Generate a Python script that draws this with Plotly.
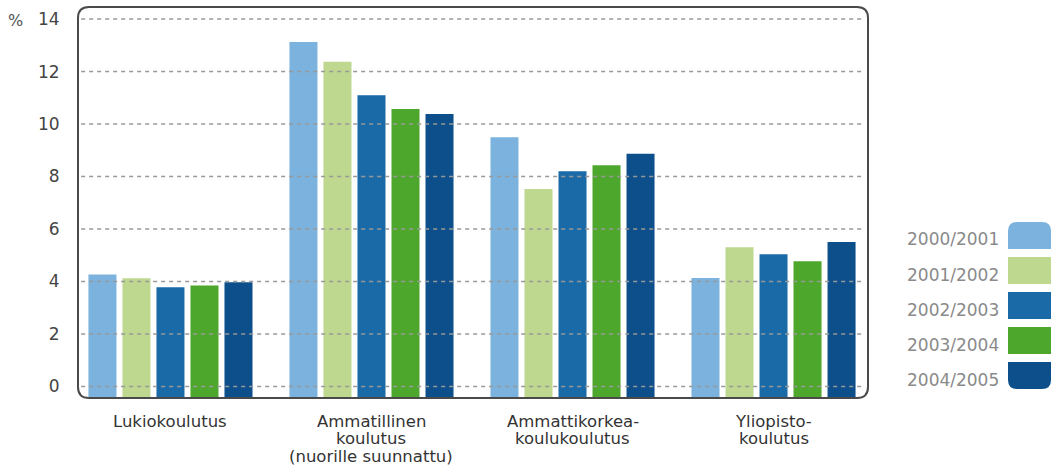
import plotly.graph_objects as go

# ---- data ----
categories = [
    "Lukiokoulutus",
    "Ammatillinen<br>koulutus<br>(nuorille suunnattu)",
    "Ammattikorkea-<br>koulukoulutus",
    "Yliopisto-<br>koulutus",
]
series_names = ["2000/2001", "2001/2002", "2002/2003", "2003/2004", "2004/2005"]
values_2000_2001 = [4.27, 13.13, 9.50, 4.13]
values_2001_2002 = [4.12, 12.37, 7.52, 5.30]
values_2002_2003 = [3.78, 11.10, 8.20, 5.04]
values_2003_2004 = [3.85, 10.57, 8.43, 4.77]
values_2004_2005 = [3.97, 10.38, 8.87, 5.50]
series_values = [values_2000_2001, values_2001_2002, values_2002_2003,
                 values_2003_2004, values_2004_2005]
y_ticks = [0, 2, 4, 6, 8, 10, 12, 14]
y_unit_label = "%"

# ---- style ----
colors = ["#7bb3de", "#bed88f", "#1a6aa8", "#4ea72d", "#0d4f8b"]
W, H = 1052, 468
ML, MR, MT, MB = 78, 184, 7, 70
PW, PH = W - ML - MR, H - MT - MB
Y_MIN, Y_MAX = -0.44, 14.46
FONT = "DejaVu Sans"


def px_x(px):
    return (px - ML) / PW


def px_y(py):
    return (H - MB - py) / PH


def rounded_path(x0, y0, x1, y1, r, tl=True, tr=True, br=True, bl=True):
    """pixel rect (y down) -> paper path with optional rounded corners"""
    rx, ry = r / PW, r / PH
    X0, X1 = px_x(x0), px_x(x1)
    Yt, Yb = px_y(y0), px_y(y1)
    p = []
    p.append(f"M {X0 + (rx if tl else 0)},{Yt}")
    if tr:
        p.append(f"L {X1 - rx},{Yt} Q {X1},{Yt} {X1},{Yt - ry}")
    else:
        p.append(f"L {X1},{Yt}")
    if br:
        p.append(f"L {X1},{Yb + ry} Q {X1},{Yb} {X1 - rx},{Yb}")
    else:
        p.append(f"L {X1},{Yb}")
    if bl:
        p.append(f"L {X0 + rx},{Yb} Q {X0},{Yb} {X0},{Yb + ry}")
    else:
        p.append(f"L {X0},{Yb}")
    if tl:
        p.append(f"L {X0},{Yt - ry} Q {X0},{Yt} {X0 + rx},{Yt}")
    else:
        p.append(f"L {X0},{Yt}")
    p.append("Z")
    return " ".join(p)


fig = go.Figure()
for name, vals, col in zip(series_names, series_values, colors):
    fig.add_trace(go.Bar(
        name=name,
        x=categories,
        y=[v - Y_MIN for v in vals],
        base=Y_MIN,
        marker=dict(color=col, line=dict(width=0)),
        customdata=vals,
        hovertemplate="%{customdata}<extra>" + name + "</extra>",
    ))

shapes = []
# dashed gridlines above bars
for t in y_ticks:
    shapes.append(dict(type="line", xref="paper", yref="y", x0=0.004, x1=0.996,
                       y0=t, y1=t, layer="above",
                       line=dict(color="#999999", width=1.5, dash="4px,4px")))
# rounded frame
shapes.append(dict(type="path", xref="paper", yref="paper",
                   path=rounded_path(ML, MT, ML + PW, MT + PH, 11),
                   line=dict(color="#4a4a4a", width=2), layer="above"))

annotations = [dict(text=y_unit_label, xref="paper", yref="paper",
                    x=px_x(15), y=px_y(20), showarrow=False,
                    xanchor="center", yanchor="middle",
                    font=dict(family=FONT, size=16, color="#555555"))]

# category labels (one text per line, tight line spacing)
label_top, label_pitch = 421, 17.5
for cat in categories:
    for j, line in enumerate(cat.split("<br>")):
        annotations.append(dict(text=line, xref="x", yref="paper", x=cat,
                                y=px_y(label_top + j * label_pitch),
                                xanchor="center", yanchor="middle",
                                showarrow=False,
                                font=dict(family=FONT, size=16.5,
                                          color="#333333")))

# custom legend
sw_top, sw_h, sw_pitch = 222, 27, 35
sw_x0, sw_x1 = 1008, 1051
n = len(series_names)
for i, (name, col) in enumerate(zip(series_names, colors)):
    y0 = sw_top + i * sw_pitch
    y1 = y0 + sw_h
    shapes.append(dict(type="path", xref="paper", yref="paper",
                       path=rounded_path(sw_x0, y0, sw_x1, y1, 9,
                                         tl=(i == 0), tr=(i == 0),
                                         bl=(i == n - 1), br=(i == n - 1)),
                       fillcolor=col, line=dict(width=0), layer="above"))
    annotations.append(dict(text=name, xref="paper", yref="paper",
                            x=px_x(1001), y=px_y((y0 + y1) / 2 + 4),
                            xanchor="right", yanchor="middle", showarrow=False,
                            font=dict(family=FONT, size=17, color="#8a8a8a")))

fig.update_layout(
    width=W, height=H,
    margin=dict(l=ML, r=MR, t=MT, b=MB, pad=0, autoexpand=False),
    paper_bgcolor="white", plot_bgcolor="white",
    barmode="group", bargap=0.154, bargroupgap=0.176,
    showlegend=False,
    shapes=shapes, annotations=annotations,
    font=dict(family=FONT, size=15, color="#333333"),
    xaxis=dict(type="category", range=[-0.46, 3.47], showgrid=False,
               zeroline=False, showline=False, showticklabels=False,
               ticks="", automargin=False),
    yaxis=dict(range=[Y_MIN, Y_MAX], tickvals=y_ticks, showgrid=False,
               zeroline=False, showline=False, ticks="outside", ticklen=14,
               tickcolor="rgba(0,0,0,0)", automargin=False,
               tickfont=dict(family=FONT, size=17, color="#444444")),
)

fig.write_html("out.html",
               config={"displayModeBar": False},
               post_script="document.body.style.margin='0';"
                           "document.body.style.padding='0';")
